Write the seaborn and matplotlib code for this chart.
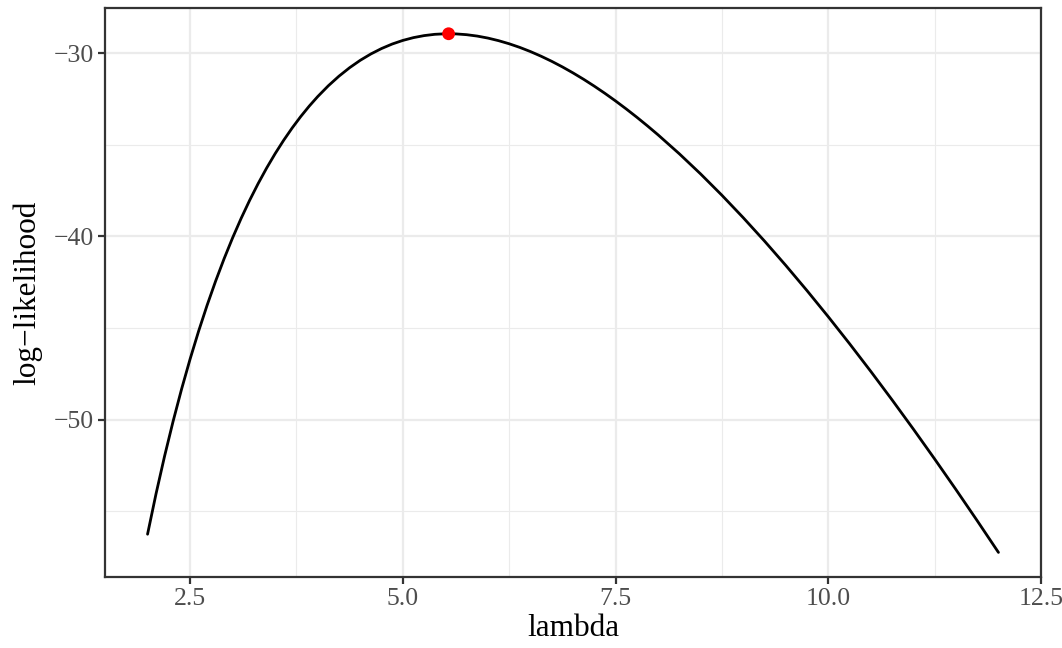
import matplotlib
matplotlib.use("Agg")
import matplotlib.pyplot as plt
import seaborn as sns
import pandas as pd
from matplotlib.ticker import MultipleLocator

lam = [2.0, 2.1, 2.2, 2.3, 2.4, 2.5, 2.6, 2.7, 2.8, 2.9, 3.0,
       3.1, 3.2, 3.3, 3.4, 3.5, 3.6, 3.7, 3.8, 3.9, 4.0,
       4.125, 4.25, 4.375, 4.5, 4.625, 4.75, 4.875, 5.0,
       5.125, 5.25, 5.375, 5.5, 5.625, 5.75, 5.875, 6.0,
       6.125, 6.25, 6.375, 6.5, 6.625, 6.75, 6.875, 7.0,
       7.125, 7.25, 7.375, 7.5, 7.625, 7.75, 7.875, 8.0,
       8.25, 8.5, 8.75, 9.0, 9.25, 9.5, 9.75, 10.0,
       10.25, 10.5, 10.75, 11.0, 11.25, 11.5, 11.75, 12.0]
loglik = [-56.263, -54.050, -52.001, -50.101, -48.336, -46.697, -45.173, -43.756,
          -42.437, -41.211, -40.070,
          -39.009, -38.023, -37.108, -36.258, -35.471, -34.743, -34.070, -33.450,
          -32.880, -32.357,
          -31.766, -31.242, -30.780, -30.376, -30.029, -29.734, -29.488, -29.291,
          -29.138, -29.028, -28.958, -28.928, -28.935, -28.978, -29.054, -29.163,
          -29.304, -29.474, -29.673, -29.900, -30.154, -30.433, -30.737, -31.065,
          -31.415, -31.788, -32.182, -32.597, -33.032, -33.486, -33.959, -34.450,
          -35.485, -36.585, -37.748, -38.970, -40.247, -41.577, -42.957, -44.384,
          -45.856, -47.371, -48.927, -50.522, -52.154, -53.821, -55.523, -57.257]
mle_lam = [5.538]
mle_ll = [-28.926]

df = pd.DataFrame({"lambda": lam, "loglik": loglik})
peak = pd.DataFrame({"lambda": mle_lam, "loglik": mle_ll})

sns.set_theme(style="white")
plt.rcParams['font.family'] = ['Liberation Serif', 'DejaVu Serif']
plt.rcParams['axes.unicode_minus'] = True

fig = plt.figure(figsize=(10.62, 6.48), dpi=100)
ax = fig.add_axes([105/1062, (648-577)/648, (1041-105)/1062, (577-8)/648])

sns.lineplot(data=df, x="lambda", y="loglik", sort=False, color="black",
             linewidth=2.0, ax=ax, zorder=3)
sns.scatterplot(data=peak, x="lambda", y="loglik", color="red", s=85,
                edgecolor="none", ax=ax, zorder=4)

ax.set_xlim(1.5, 12.5)
ax.set_ylim(-58.6, -27.52)
ax.xaxis.set_minor_locator(MultipleLocator(1.25))
ax.yaxis.set_minor_locator(MultipleLocator(5))
ax.set_xticks([2.5, 5.0, 7.5, 10.0, 12.5])
ax.set_xticklabels(["2.5", "5.0", "7.5", "10.0", "12.5"])
ax.set_yticks([-30, -40, -50])
ax.set_yticklabels(["\u221230", "\u221240", "\u221250"])

ax.grid(which="major", color="#EBEBEB", linewidth=1.6, zorder=0)
ax.grid(which="minor", color="#EBEBEB", linewidth=0.8, zorder=0)
ax.set_axisbelow(True)

for s in ax.spines.values():
    s.set_visible(True)
    s.set_color("#333333")
    s.set_linewidth(1.6)

ax.tick_params(axis="both", which="major", length=5, width=1.6, color="#333333",
               labelsize=18.5, labelcolor="#4D4D4D", pad=3, direction="out")
ax.tick_params(axis="both", which="minor", length=0)
ax.tick_params(axis="x", bottom=True)
ax.tick_params(axis="y", left=True)

ax.set_xlabel("lambda", fontsize=22.5, color="black", labelpad=3)
ax.set_ylabel("log\u2212likelihood", fontsize=22.5, color="black", labelpad=8)

fig.savefig("out.png", dpi=100)
